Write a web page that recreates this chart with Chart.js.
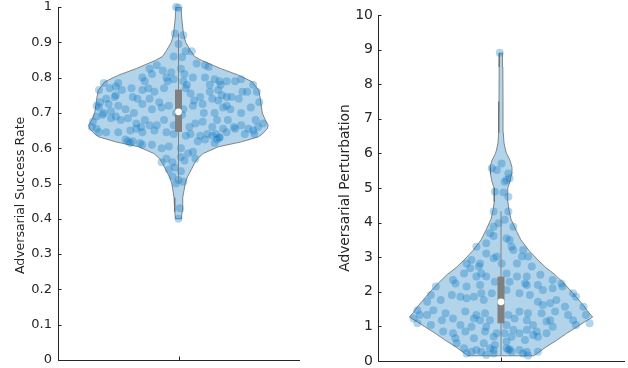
<!DOCTYPE html>
<html>
<head>
<title>Violin plots</title>
<script src="https://cdn.jsdelivr.net/npm/chart.js"></script>
<style>
  body { margin: 0; background: #fff; }
  .panel { position: absolute; top: 0; width: 314px; height: 368px; }
</style>
</head>
<body>
<div class="panel" style="left:0"><canvas id="rateChart" width="314" height="368"></canvas></div>
<div class="panel" style="left:314px"><canvas id="pertChart" width="314" height="368"></canvas></div>
<script>
// --- Adversarial Success Rate ---
// violin outline: y levels and half-width relative to the widest point
const rateLevels = [0.40, 0.42, 0.443, 0.46, 0.481, 0.50, 0.519, 0.54, 0.557, 0.57, 0.585, 0.604, 0.618, 0.632, 0.64, 0.655, 0.665, 0.68, 0.70, 0.736, 0.764, 0.788, 0.807, 0.826, 0.849, 0.86, 0.877, 0.90, 0.925, 0.96, 1.0];
const rateWidths = [0.033, 0.039, 0.044, 0.05, 0.062, 0.075, 0.10, 0.144, 0.178, 0.21, 0.275, 0.444, 0.70, 0.889, 0.933, 0.989, 1.0, 0.967, 0.933, 0.914, 0.894, 0.822, 0.667, 0.467, 0.256, 0.178, 0.133, 0.08, 0.055, 0.039, 0.028];
// box: whisker low, q1, median, q3, whisker high
const rateBox = [0.502, 0.646, 0.703, 0.766, 0.925];
// jittered samples [x offset, value]
const ratePoints = [
  [-0.02,1.0],[0.0,0.998],[-0.03,0.925],[0.04,0.92],[0.0,0.895],[-0.04,0.86],[0.03,0.858],[0.06,0.875],[0.11,0.875],
  [0.15,0.84],[0.22,0.835],[0.25,0.83],[-0.18,0.835],[-0.13,0.82],[-0.06,0.815],[0.02,0.825],[0.05,0.81],[-0.24,0.825],
  [-0.30,0.80],[-0.28,0.79],[-0.22,0.81],[-0.10,0.80],[-0.09,0.79],[-0.04,0.795],[0.04,0.79],[0.07,0.78],[0.12,0.80],[0.22,0.80],[0.30,0.795],[0.34,0.79],[0.40,0.79],[0.47,0.79],[0.52,0.795],[-0.50,0.785],[-0.52,0.775],[-0.62,0.785],[0.62,0.78],[0.26,0.78],[0.35,0.78],
  [-0.66,0.765],[-0.57,0.77],[-0.47,0.765],[-0.39,0.77],[-0.30,0.765],[-0.25,0.77],[-0.20,0.76],[-0.12,0.77],[0.06,0.77],[0.10,0.755],[0.18,0.745],[0.26,0.76],[0.33,0.765],[0.36,0.75],[0.40,0.745],[0.53,0.76],[0.57,0.76],[0.65,0.76],[0.50,0.74],[-0.65,0.73],[-0.60,0.74],[-0.53,0.745],[-0.52,0.75],[-0.38,0.745],[-0.34,0.74],[-0.24,0.74],[-0.16,0.73],[0.13,0.735],[0.28,0.74],[0.33,0.735],[0.44,0.745],
  [-0.68,0.72],[-0.66,0.715],[-0.58,0.725],[-0.50,0.72],[-0.44,0.71],[-0.37,0.70],[-0.30,0.725],[-0.22,0.71],[-0.14,0.715],[-0.08,0.72],[-0.02,0.70],[0.04,0.71],[0.12,0.72],[0.20,0.725],[0.30,0.70],[0.37,0.715],[0.43,0.71],[0.52,0.70],[0.60,0.715],[0.67,0.73],[-0.62,0.70],[-0.56,0.705],[0.40,0.72],[0.21,0.70],
  [-0.71,0.675],[-0.68,0.69],[-0.63,0.695],[-0.56,0.685],[-0.52,0.69],[-0.48,0.68],[-0.42,0.685],[-0.35,0.67],[-0.28,0.68],[-0.24,0.665],[-0.18,0.665],[-0.12,0.68],[-0.04,0.665],[0.03,0.695],[0.09,0.66],[0.14,0.67],[0.20,0.675],[0.28,0.66],[0.32,0.68],[0.37,0.655],[0.46,0.66],[0.52,0.665],[0.58,0.655],[0.64,0.68],[0.66,0.66],[0.70,0.67],[-0.72,0.66],[-0.68,0.655],[-0.31,0.66],[0.41,0.68],
  [-0.66,0.645],[-0.60,0.645],[-0.40,0.65],[-0.35,0.655],[-0.30,0.645],[-0.20,0.65],[-0.10,0.645],[-0.04,0.64],[0.06,0.635],[0.10,0.64],[0.18,0.635],[0.24,0.64],[0.28,0.635],[0.31,0.64],[0.34,0.63],[0.40,0.645],[0.47,0.655],[0.55,0.64],[0.62,0.65],[0.63,0.64],[-0.50,0.645],
  [-0.44,0.625],[-0.42,0.62],[-0.40,0.615],[-0.38,0.62],[-0.32,0.615],[-0.30,0.61],[-0.22,0.61],[-0.08,0.605],[0.02,0.60],[0.16,0.62],[0.22,0.625],[0.30,0.615],[0.32,0.625],[0.34,0.63],
  [-0.14,0.60],[0.08,0.585],[0.12,0.59],[0.02,0.575],[-0.10,0.57],[0.14,0.57],[-0.14,0.56],[-0.05,0.56],[0.05,0.565],[-0.03,0.545],[-0.08,0.54],[0.02,0.535],
  [-0.05,0.52],[0.0,0.51],[0.04,0.505],[-0.02,0.50],[0.01,0.43],[0.0,0.40]
];

// --- Adversarial Perturbation ---
const pertLevels = [0.15, 0.4, 0.6, 0.8, 1.0, 1.15, 1.27, 1.4, 1.6, 1.8, 2.0, 2.25, 2.5, 2.7, 2.92, 3.2, 3.5, 3.79, 4.1, 4.36, 4.6, 4.8, 5.0, 5.2, 5.4, 5.6, 5.8, 6.0, 6.1, 6.3, 6.6, 7.5, 8.5, 8.9];
const pertWidths = [0.359, 0.489, 0.609, 0.717, 0.837, 0.924, 1.0, 0.957, 0.902, 0.837, 0.772, 0.685, 0.587, 0.489, 0.402, 0.304, 0.217, 0.163, 0.109, 0.087, 0.076, 0.071, 0.076, 0.10, 0.114, 0.12, 0.098, 0.06, 0.049, 0.033, 0.025, 0.022, 0.02, 0.016];
const pertBox = [0.15, 1.09, 1.71, 2.44, 4.33];
const pertPoints = [
  [-0.01,8.91],
  [0.005,5.71],[-0.075,5.57],[-0.035,5.52],[0.06,5.42],[0.045,5.23],[0.07,5.28],[0.03,5.18],[-0.05,4.89],[0.02,4.87],[0.06,4.75],
  [-0.06,4.32],[0.06,4.32],[0.03,4.08],[-0.02,3.98],[-0.06,3.88],[0.10,3.88],[-0.09,3.69],[-0.06,3.61],[0.045,3.55],[0.07,3.5],[0.086,3.3],[-0.12,3.4],[-0.2,3.3],[0.10,3.21],[0.18,3.21],[-0.12,3.11],[-0.035,3.02],[-0.06,2.97],[0.005,2.82],[0.13,2.82],[0.17,3.02],[0.22,3.02],[-0.24,2.92],[-0.17,2.82],[-0.18,2.73],[-0.28,2.82],[-0.25,2.68],[0.25,2.73],
  [-0.16,2.53],[-0.3,2.53],[-0.12,2.44],[-0.2,2.44],[0.045,2.53],[0.13,2.44],[0.21,2.44],[0.32,2.49],[0.42,2.34],[-0.39,2.34],[-0.37,2.24],[-0.28,2.15],[-0.17,2.2],[-0.05,2.29],[0.07,2.29],[0.195,2.24],[0.21,2.2],[0.30,2.2],[0.49,2.24],
  [-0.53,2.15],[-0.57,1.91],[-0.40,1.91],[-0.33,1.86],[-0.22,1.86],[-0.16,1.96],[-0.075,1.96],[0.045,2.05],[0.15,1.96],[0.235,1.91],[0.34,2.05],[0.42,2.1],[0.50,2.15],[0.586,1.96],[0.61,1.86],
  [-0.6,1.71],[-0.49,1.76],[-0.28,1.81],[-0.14,1.76],[0.30,1.71],[0.34,1.62],[0.40,1.67],[0.45,1.76],[0.52,1.57],
  [-0.68,1.47],[-0.55,1.47],[-0.45,1.38],[-0.29,1.43],[-0.2,1.33],[-0.13,1.38],[0.06,1.33],[0.15,1.43],[0.22,1.38],[0.33,1.38],[0.44,1.43],[0.545,1.33],[0.67,1.57],[0.69,1.33],
  [-0.71,1.23],[-0.66,1.33],[-0.6,1.33],[-0.48,1.18],[-0.39,1.23],[-0.22,1.23],[-0.17,1.18],[-0.09,1.18],[0.11,1.23],[0.21,1.18],[0.37,1.14],[0.40,1.18],[0.586,1.18],[0.72,1.09],
  [-0.68,1.09],[-0.57,1.04],[-0.33,1.04],[-0.24,0.99],[-0.12,0.99],[0.045,1.04],[0.10,0.9],[0.21,0.9],[0.26,1.04],[0.29,0.85],[0.42,0.99],[0.61,1.04],
  [-0.47,0.85],[-0.39,0.8],[-0.29,0.85],[-0.13,0.85],[-0.035,0.8],[0.03,0.8],[0.15,0.8],[0.26,0.75],[0.37,0.8],
  [-0.37,0.66],[-0.22,0.66],[-0.06,0.7],[0.086,0.7],[0.195,0.61],[0.30,0.7],[-0.36,0.51],[-0.14,0.51],[-0.05,0.46],[0.045,0.56],
  [-0.3,0.37],[-0.2,0.32],[-0.09,0.37],[-0.06,0.32],[0.045,0.37],[0.06,0.32],[0.086,0.27],[0.15,0.32],[0.21,0.27],[0.30,0.27],
  [-0.28,0.22],[-0.16,0.27],[-0.06,0.22],[0.18,0.22],[0.22,0.16],[-0.24,0.27],[-0.12,0.17],[0.07,0.34]
];

const maxHalf = 0.745;
const blue = 'rgba(0,114,189,0.3)';
const ink = '#262626';
const gray = '#808080';
Chart.defaults.font.family = 'DejaVu Sans';

function outline(levels, widths) {
  const right = levels.map((y, i) => ({ x: widths[i] * maxHalf, y: y }));
  const left = levels.map((y, i) => ({ x: -widths[i] * maxHalf, y: y })).reverse();
  const pts = right.concat(left);
  pts.push(pts[0]);
  return pts;
}

// MATLAB style ticks pointing into the axes
const inwardTicks = {
  id: 'inwardTicks',
  afterDraw(chart) {
    const { ctx, chartArea, scales } = chart;
    ctx.save();
    ctx.strokeStyle = ink;
    ctx.lineWidth = 1;
    ctx.beginPath();
    scales.y.ticks.forEach(t => {
      const py = Math.round(scales.y.getPixelForValue(t.value)) + 0.5;
      ctx.moveTo(chartArea.left, py);
      ctx.lineTo(chartArea.left + 3.5, py);
    });
    const px = Math.round(scales.x.getPixelForValue(0)) + 0.5;
    ctx.moveTo(px, chartArea.bottom);
    ctx.lineTo(px, chartArea.bottom - 3.5);
    ctx.stroke();
    ctx.restore();
  }
};

function makeViolin(id, cfg) {
  const box = cfg.box;
  new Chart(document.getElementById(id), {
    type: 'scatter',
    data: {
      datasets: [
        { data: [{ x: 0, y: box[2] }], pointRadius: 3.4, pointBackgroundColor: '#fff', pointBorderWidth: 0, order: 0, clip: false },
        { data: [{ x: 0, y: box[1] }, { x: 0, y: box[3] }], showLine: true, borderColor: gray, borderWidth: 7, borderCapStyle: 'butt', pointRadius: 0, order: 1 },
        { data: [{ x: 0, y: box[0] }, { x: 0, y: box[4] }], showLine: true, borderColor: gray, borderWidth: 1, pointRadius: 0, order: 2 },
        { data: cfg.points.map(p => ({ x: p[0], y: p[1] })), pointRadius: 4, pointBackgroundColor: blue, pointBorderWidth: 0, order: 3, clip: false },
        { data: outline(cfg.levels, cfg.widths), showLine: true, fill: 'shape', backgroundColor: blue, borderColor: '#6a6a6a', borderWidth: 0.8, pointRadius: 0, tension: 0, order: 4 }
      ]
    },
    options: {
      responsive: false,
      animation: false,
      layout: { padding: cfg.padding },
      plugins: { legend: { display: false }, tooltip: { enabled: false } },
      scales: {
        x: {
          type: 'linear', min: -1, max: 1,
          ticks: { display: false },
          grid: { display: false, drawTicks: false },
          border: { display: true, color: ink, width: 1 },
          afterFit: s => { s.height = 0; s.paddingLeft = 0; s.paddingRight = 0; }
        },
        y: {
          min: cfg.min, max: cfg.max,
          ticks: {
            stepSize: cfg.step, color: ink, font: { size: cfg.tickSize }, padding: cfg.tickPad,
            callback: v => String(Number(v.toFixed(1)))
          },
          grid: { display: false, drawTicks: false },
          border: { display: true, color: ink, width: 1 },
          title: { display: true, text: cfg.title, color: ink, font: { size: cfg.titleSize }, padding: { top: cfg.titlePad, bottom: 0 } },
          afterFit: s => { s.width = cfg.axisWidth; s.paddingTop = 0; s.paddingBottom = 0; }
        }
      }
    },
    plugins: [inwardTicks]
  });
}

makeViolin('rateChart', {
  levels: rateLevels, widths: rateWidths, box: rateBox, points: ratePoints,
  min: 0, max: 1, step: 0.1, title: 'Adversarial Success Rate      ',
  tickSize: 13, tickPad: 6, titleSize: 12.5,
  axisWidth: 58, titlePad: 13, padding: { top: 7, right: 15, bottom: 8, left: 0 }
});
makeViolin('pertChart', {
  levels: pertLevels, widths: pertWidths, box: pertBox, points: pertPoints,
  min: 0, max: 10, step: 1, title: 'Adversarial Perturbation',
  tickSize: 14, tickPad: 5, titleSize: 13.8,
  axisWidth: 64, titlePad: 23, padding: { top: 15, right: 3, bottom: 7, left: 0 }
});
</script>
</body>
</html>
